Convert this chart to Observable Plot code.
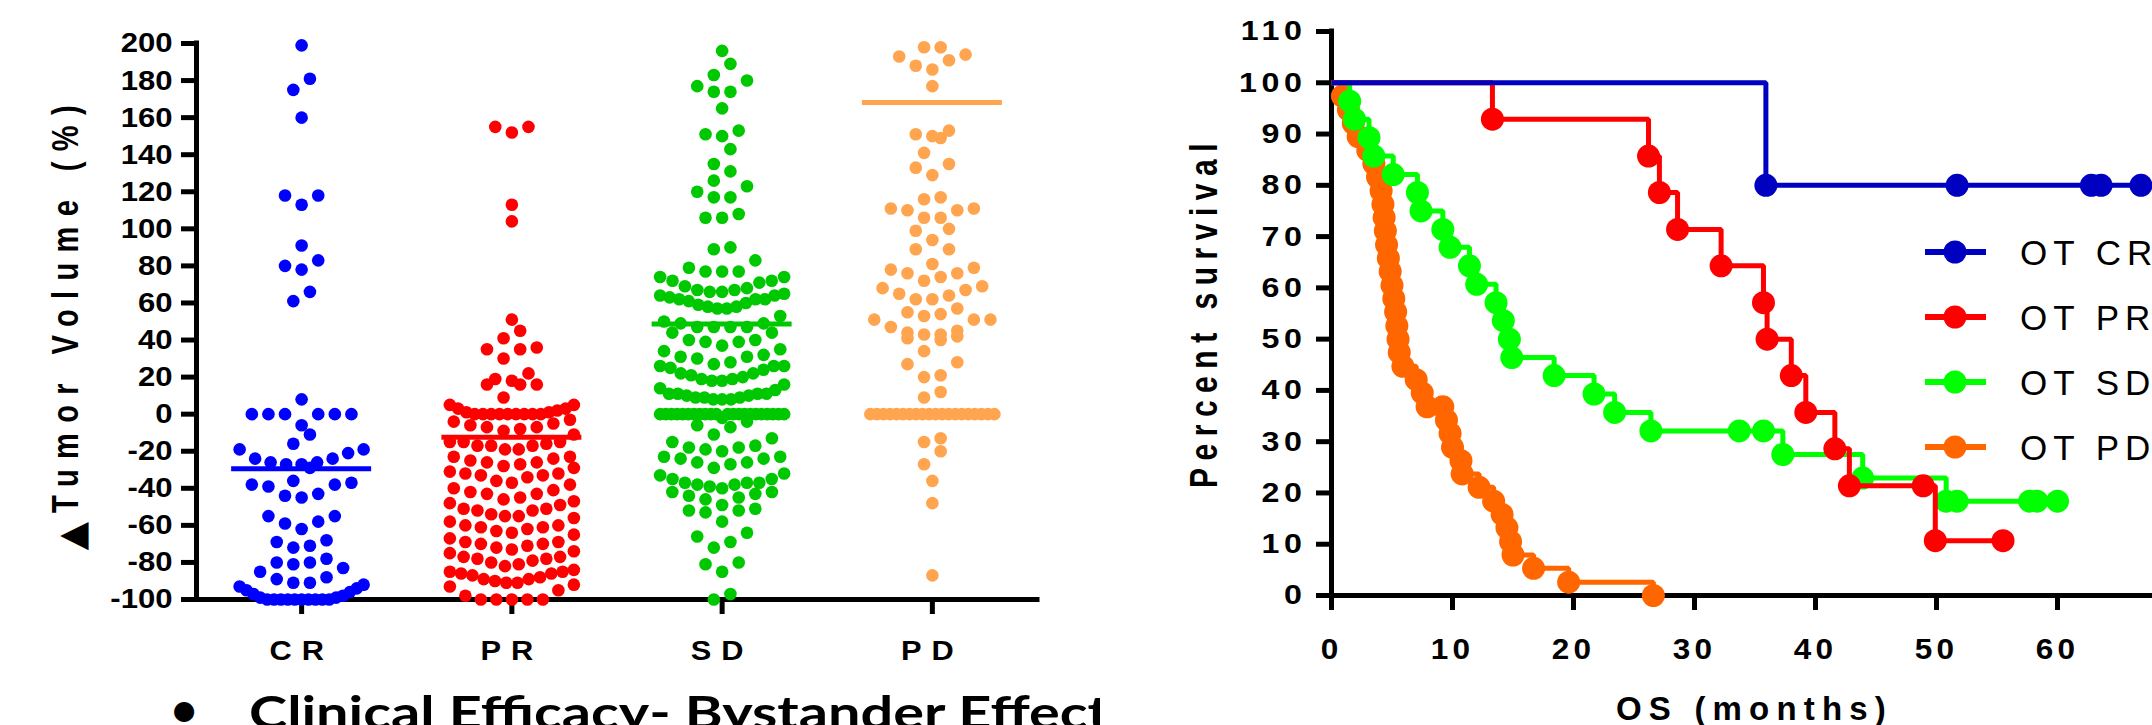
<!DOCTYPE html>
<html><head><meta charset="utf-8">
<script src="https://cdn.jsdelivr.net/npm/d3@7"></script>
<script src="https://cdn.jsdelivr.net/npm/@observablehq/plot@0.6"></script>
<style>
html,body{margin:0;padding:0;background:#fff;}
body{width:2152px;height:725px;overflow:hidden;position:relative;}
#left{position:absolute;left:0;top:0;width:1100px;height:725px;}
#right{position:absolute;left:1100px;top:0;width:1100px;height:725px;}
svg{display:block;max-width:none !important;}
</style></head><body>
<div id="left"></div><div id="right"></div>
<script>
// ---------------- LEFT PANEL DATA (Δ tumor volume %, by response group) ----------------
const groups = ["CR", "PR", "SD", "PD"];
const groupColors = ["#0000FF", "#FF0000", "#00C800", "#FFA54F"];
const crValues = [199, 181, 175, 160, 118, 113, 118, 91, 83, 80, 78, 66, 61,
  8, 0, 0, 0, 0, 0, 0, -6,
  -11, -16, -19, -19, -21,
  -24, -26, -27, -29, -27, -26, -24,
  -36, -38, -39, -44, -45, -43, -38, -37,
  -55, -62, -59, -58, -55,
  -68, -69, -71, -72, -78,
  -80, -81, -80, -83, -85, -89, -91, -88,
  -91, -92, -93, -94, -95, -96, -97, -98, -99, -99,
  -100, -100, -100, -100, -100, -100, -100, -100, -100, -100];
const prValues = [155, 152, 155, 113, 104,
  51, 45, 41, 36, 35, 35, 30,
  22, 19, 16, 16, 16, 18,
  9, 5, 5,
  3, 1, 0, 0, 0, 0, 0, 0, 0, 0, 0, 1, 2, 3,
  -4, -6, -7, -9, -11, -8, -7, -5, -3,
  -15, -17, -17, -19, -23, -19, -17, -16, -15, -15,
  -24, -26, -27, -29, -31, -28, -26, -25, -23,
  -32, -33, -36, -38, -40, -37, -34, -33, -32,
  -41, -43, -46, -48, -49, -47, -45, -43, -42,
  -51, -52, -55, -56, -58, -55, -54, -52, -51,
  -60, -61, -63, -65, -67, -64, -62, -61, -60,
  -69, -70, -72, -74, -75, -73, -71, -70, -69,
  -77, -78, -80, -82, -84, -81, -79, -78, -77,
  -85, -86, -88, -89, -90, -89, -87, -86, -85,
  -91, -92, -95, -100, -100, -100, -100, -100, -98, -93, -91];
const sdValues = [196, 189, 183, 180, 177, 174, 174, 165, 150, 153, 151, 143, 135, 131, 126, 123, 117, 117, 120, 108, 106, 106, 89, 90, 83,
  79, 77, 74, 72, 71, 72, 74, 77, 77,
  69, 67, 66, 64, 64, 62, 62, 63, 65, 66, 67, 68,
  62, 60, 58, 57, 53, 57, 58, 59, 61,
  49, 47, 47, 44, 44, 47, 47, 49, 50,
  40, 39, 37, 34, 35, 39, 40,
  30, 27, 26, 25, 31, 32, 31, 24, 26, 26, 28,
  19, 18, 14, 13, 22, 22, 21, 16, 18, 19, 20,
  11, 10, 9, 8, 8, 11, 11, 8, 9, 9, 10, 11,
  0, 0, 0, 0, 0, 0, 0, 0, 0, 0, 0, 0, 0, 0, 0, 0, 0, 0, 0, 0, 0, 0, -2, -4, -6, -7,
  -13, -17, -18, -15, -11,
  -19, -23, -24, -26, -27, -26, -24, -23, -20, -18,
  -29, -33, -35, -37, -35, -32,
  -37, -38, -40, -42, -43, -46, -45, -44, -42, -39, -38, -37,
  -49, -52, -53, -58, -52, -51,
  -66, -72, -69, -64, -81, -85, -80, -100, -97];
const pdValues = [198, 198, 194, 191, 193, 186, 188, 177,
  153, 149, 150, 151, 141, 135, 133, 129,
  117, 111, 106, 110, 110, 106, 111, 116, 99, 100, 94, 89, 89,
  81, 78, 76, 72, 74, 76, 79,
  68, 65, 62, 62, 64, 67, 69,
  57, 54, 51, 51, 51, 53, 55,
  47, 44, 43, 40, 41, 42, 43, 45,
  34, 27, 28, 20, 21, 12, 9,
  0, 0, 0, 0, 0, 0, 0, 0, 0, 0, 0, 0, 0, 0, 0, 0, 0, 0, 0, 0,
  -15, -20, -13, -27, -36, -48, -87];
const groupMeans = [-29.4, -12.5, 48.6, 168.2];
const yTicksLeft = [-100, -80, -60, -40, -20, 0, 20, 40, 60, 80, 100, 120, 140, 160, 180, 200];

// ---------------- RIGHT PANEL DATA (Kaplan–Meier, OS months) ----------------
const kmSeries = ["OT CR", "OT PR", "OT SD", "OT PD"];
const kmColors = ["#0000C0", "#FF0000", "#00FF00", "#FF6600"];
const crTime = [0, 35.9, 51.7, 62.8, 63.6, 66.9];
const crSurv = [100, 80, 80, 80, 80, 80];
const prTime = [0, 13.3, 26.2, 27.1, 28.6, 32.2, 35.7, 36.0, 38.0, 39.2, 41.6, 42.8, 48.9, 49.9, 55.5];
const prSurv = [100, 92.9, 85.7, 78.6, 71.4, 64.3, 57.1, 50.0, 42.9, 35.7, 28.6, 21.4, 21.4, 10.7, 10.7];
const sdTime = [0, 1.5, 1.9, 3.1, 3.5, 5.1, 7.1, 7.4, 9.2, 9.8, 11.4, 12.0, 13.6, 14.2, 14.7, 14.9, 18.4, 21.7, 23.4, 26.4, 33.7, 35.7, 37.3, 43.9, 50.8, 51.7, 57.7, 58.3, 60.0];
const sdSurv = [100, 96.4, 92.9, 89.3, 85.7, 82.1, 78.6, 75.0, 71.4, 67.9, 64.3, 60.7, 57.1, 53.6, 50.0, 46.4, 42.9, 39.3, 35.7, 32.1, 32.1, 32.1, 27.5, 22.9, 18.4, 18.4, 18.4, 18.4, 18.4];
const pdTime = [0, 0.9, 1.4, 1.8, 2.2, 3.0, 3.5, 3.8, 4.1, 4.25, 4.35, 4.45, 4.55, 4.7, 4.85, 5.0, 5.15, 5.3, 5.4, 5.5, 5.6, 5.9, 7.0, 7.5, 7.9, 9.2, 9.5, 9.8, 10.0, 10.7, 10.8, 12.2, 13.4, 14.1, 14.5, 14.8, 15.0, 16.7, 19.6, 26.6];
const pdSurv = [100, 97.4, 94.7, 92.1, 89.5, 86.8, 84.2, 81.6, 78.9, 76.3, 73.7, 71.1, 68.4, 65.8, 63.2, 60.5, 57.9, 55.3, 52.6, 50.0, 47.4, 44.7, 42.1, 39.5, 36.8, 36.8, 34.2, 31.6, 28.9, 26.3, 23.7, 21.1, 18.4, 15.8, 13.2, 10.5, 7.9, 5.3, 2.6, 0];
const yTicksRight = [0, 10, 20, 30, 40, 50, 60, 70, 80, 90, 100, 110];
const xTicksRight = [0, 10, 20, 30, 40, 50, 60];

// ---------------- layout ----------------
const FONT = "'Liberation Sans', Arial, Helvetica, sans-serif";
const CAPFONT = "Lato, 'Open Sans', sans-serif";
const L = {width: 1100, height: 725, ml: 196, mr: 63, mt: 43, mb: 126};
const yDomL = [-100, 200];
const stepPx = (L.width - L.ml - L.mr) / groups.length;
const pxPerUnit = (L.height - L.mt - L.mb) / (yDomL[1] - yDomL[0]);
const dotR = 6.3, slotPx = 16.6, maxHalfPx = 62, meanHalfPx = 70;
const rowUnits = slotPx / pxPerUnit;

// row-based beeswarm layout (Prism-like)
function swarm(values, gi) {
  const sorted = values.slice().sort((a, b) => a - b);
  const rows = [];
  let cur = null;
  for (const v of sorted) {
    if (!cur || v >= cur.start + rowUnits) { cur = {start: v, vals: []}; rows.push(cur); }
    cur.vals.push(v);
  }
  const out = [];
  for (const row of rows) {
    const n = row.vals.length;
    const sp = n > 1 ? Math.min(slotPx, 2 * maxHalfPx / (n - 1)) : 0;
    const slots = d3.range(n).map(k => (k - (n - 1) / 2) * sp)
      .sort((a, b) => Math.abs(a) - Math.abs(b) || a - b);
    row.vals.forEach((v, k) => out.push({group: groups[gi], value: v, pos: gi + 1 + slots[k] / stepPx}));
  }
  return out;
}
const swarmData = [crValues, prValues, sdValues, pdValues].flatMap((vals, i) => swarm(vals, i));
const meanData = groups.map((g, i) => ({group: g, pos: i + 1, mean: groupMeans[i]}));
const halfU = meanHalfPx / stepPx;

function styleTicks(svg, label, sx, spacing) {
  svg.querySelectorAll(`g[aria-label="${label}"] text`).forEach(t => {
    let tr = t.getAttribute("transform") || "";
    const x = t.getAttribute("x");
    if (x && !isNaN(+x)) { tr = `translate(${x},0) ` + tr; t.removeAttribute("x"); }
    t.setAttribute("transform", `${tr} scale(${sx},1)`);
    if (spacing) t.style.letterSpacing = spacing + "px";
  });
}
// spread a text's letters so that its rendered extent (vertical "h" or horizontal "w") equals target
function fitText(el, target, dim) {
  const n = el.textContent.length;
  let spacing = 0;
  for (let k = 0; k < 4; k++) {
    el.style.letterSpacing = spacing + "px";
    const r = el.getBoundingClientRect();
    const len = dim === "h" ? r.height : r.width;
    spacing += (target - len) / (n - 1);
  }
  el.style.letterSpacing = spacing + "px";
}

const leftPlot = Plot.plot({
  width: L.width, height: L.height,
  marginLeft: L.ml, marginRight: L.mr, marginTop: L.mt, marginBottom: L.mb,
  style: {fontFamily: FONT, background: "#fff", color: "#000"},
  x: {domain: [0.5, 4.5]},
  y: {domain: yDomL},
  color: {domain: groups, range: groupColors},
  marks: [
    Plot.ruleY([-100], {strokeWidth: 5, strokeLinecap: "square"}),
    Plot.ruleX([0.5], {strokeWidth: 5, strokeLinecap: "square"}),
    Plot.axisY({ticks: yTicksLeft, tickFormat: d => String(d), tickSize: 15, tickPadding: 9,
      strokeWidth: 5, fontSize: 28, fontWeight: "bold", label: null}),
    Plot.axisX({ticks: [1, 2, 3, 4], tickFormat: i => groups[i - 1], tickSize: 15, tickPadding: 26,
      strokeWidth: 5, fontSize: 28, fontWeight: "bold", label: null}),
    Plot.dot(swarmData, {x: "pos", y: "value", r: dotR, fill: "group"}),
    Plot.ruleY(meanData, {y: "mean", x1: d => d.pos - halfU, x2: d => d.pos + halfU, stroke: "group", strokeWidth: 5})
  ]
});
styleTicks(leftPlot, "y-axis tick label", 1.11, 0);
styleTicks(leftPlot, "x-axis tick label", 1.1, 9);
document.getElementById("left").appendChild(leftPlot);
const ls = d3.select(leftPlot);
ls.append("text")
  .attr("transform", "translate(84,536) rotate(-90)")
  .attr("text-anchor", "middle").attr("font-family", "'DejaVu Sans', sans-serif").attr("font-size", 37)
  .text("▲");
const yTitle = ls.append("text")
  .attr("transform", "translate(78,513) rotate(-90) scale(1,1.3)")
  .attr("text-anchor", "start").attr("font-family", FONT).attr("font-size", 29).attr("font-weight", "bold")
  .text("Tumor Volume (%)");
fitText(yTitle.node(), 418, "h");
ls.append("text").attr("x", 184).attr("y", 726).attr("text-anchor", "middle")
  .attr("font-family", CAPFONT).attr("font-size", 46).attr("font-weight", "bold").text("•");
ls.append("text").attr("x", 249).attr("y", 729).attr("text-anchor", "start")
  .attr("font-family", CAPFONT).attr("font-size", 46).attr("font-weight", "bold")
  .attr("textLength", 860).attr("lengthAdjust", "spacingAndGlyphs")
  .text("Clinical Efficacy- Bystander Effect");

// ---------------- RIGHT PANEL ----------------
const R = {width: 1100, height: 725, ml: 231, mr: 22, mt: 31, mb: 130, offset: 1100};
const kmTimes = [crTime, prTime, sdTime, pdTime];
const kmSurvs = [crSurv, prSurv, sdSurv, pdSurv];
const kmData = kmSeries.flatMap((name, i) => kmTimes[i].map((t, j) => ({series: name, t, s: kmSurvs[i][j]})));
const drawOrder = ["OT PD", "OT SD", "OT PR", "OT CR"];

const rightPlot = Plot.plot({
  width: R.width, height: R.height,
  marginLeft: R.ml, marginRight: R.mr, marginTop: R.mt, marginBottom: R.mb,
  style: {fontFamily: FONT, background: "#fff", color: "#000"},
  x: {domain: [0, 70]},
  y: {domain: [0, 110]},
  color: {domain: kmSeries, range: kmColors},
  marks: [
    Plot.ruleY([0], {strokeWidth: 5, strokeLinecap: "square"}),
    Plot.ruleX([0], {strokeWidth: 5, strokeLinecap: "square"}),
    Plot.axisY({ticks: yTicksRight, tickFormat: d => String(d), tickSize: 15, tickPadding: 10,
      strokeWidth: 5, fontSize: 28, fontWeight: "bold", label: null}),
    Plot.axisX({ticks: xTicksRight, tickFormat: d => String(d), tickSize: 15, tickPadding: 27,
      strokeWidth: 5, fontSize: 30, fontWeight: "bold", label: null}),
    ...drawOrder.flatMap(name => [
      Plot.line(kmData.filter(d => d.series === name), {x: "t", y: "s", stroke: "series", curve: "step-after",
        strokeWidth: 5, strokeLinejoin: "miter", strokeLinecap: "butt"}),
      Plot.dot(kmData.filter(d => d.series === name && d.t > 0), {x: "t", y: "s", r: 11.5, fill: "series"})
    ])
  ]
});
styleTicks(rightPlot, "y-axis tick label", 1.15, 4);
styleTicks(rightPlot, "x-axis tick label", 1.05, 4);
document.getElementById("right").appendChild(rightPlot);
const rs = d3.select(rightPlot);
const rTitle = rs.append("text")
  .attr("transform", `translate(${1217 - R.offset},488) rotate(-90) scale(1,1.3)`)
  .attr("text-anchor", "start").attr("font-family", FONT).attr("font-size", 30).attr("font-weight", "bold")
  .text("Percent survival");
fitText(rTitle.node(), 352, "h");
const xTitle = rs.append("text").attr("x", 1616 - R.offset).attr("y", 720).attr("text-anchor", "start")
  .attr("font-family", FONT).attr("font-size", 33).attr("font-weight", "bold")
  .text("OS (months)");
fitText(xTitle.node(), 277, "w");
// legend
const legRows = [252, 317, 382, 447];
kmSeries.forEach((name, i) => {
  const g = rs.append("g").attr("transform", `translate(${1925 - R.offset},${legRows[i]})`);
  g.append("line").attr("x1", 0).attr("x2", 61).attr("y1", 0).attr("y2", 0)
    .attr("stroke", kmColors[i]).attr("stroke-width", 6);
  g.append("circle").attr("cx", 30).attr("cy", 0).attr("r", 11.5).attr("fill", kmColors[i]);
  g.append("text").attr("x", 95).attr("y", 12.5).attr("text-anchor", "start")
    .attr("font-family", FONT).attr("font-size", 35)
    .style("letter-spacing", "6px").attr("fill", "#000").text(name);
});
</script>
</body></html>
